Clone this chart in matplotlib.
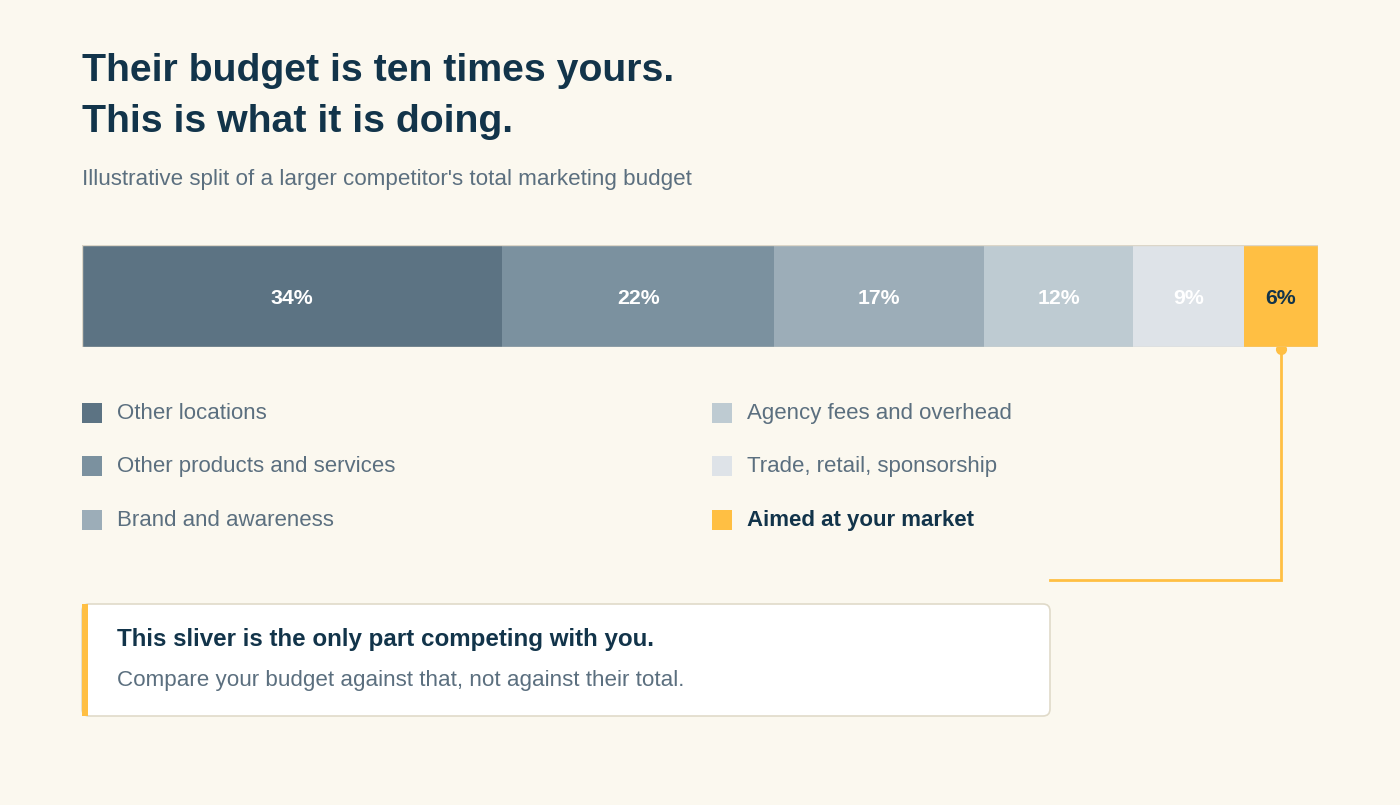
import matplotlib.pyplot as plt
from matplotlib.patches import Rectangle, FancyBboxPatch
import numpy as np

# данные
categories = ["Other locations", "Other products and services", "Brand and awareness",
              "Agency fees and overhead", "Trade, retail, sponsorship", "Aimed at your market"]
shares = [34, 22, 17, 12, 9, 6]
labels = [f"{v}%" for v in shares]
colors = ["#5C7383", "#7B919F", "#9CADB8", "#BECBD2", "#DEE3E8", "#FFBF43"]

title = "Their budget is ten times yours.\nThis is what it is doing."
subtitle = "Illustrative split of a larger competitor's total marketing budget"
note_head = "This sliver is the only part competing with you."
note_body = "Compare your budget against that, not against their total."

bg = "#FBF8EF"
navy = "#12344A"
grey = "#5B6F7F"
yellow = "#FFBF43"

plt.rcParams["font.family"] = ["Liberation Sans", "DejaVu Sans"]

W, H = 1400, 805
fig = plt.figure(figsize=(14, 8.05), dpi=100, facecolor=bg)

# слой в пиксельных координатах
ov = fig.add_axes([0, 0, 1, 1])
ov.set_xlim(0, W)
ov.set_ylim(H, 0)
ov.axis("off")

# заголовок
lines = title.split("\n")
ov.text(82, 81, lines[0], fontsize=28.3, fontweight="bold", color=navy, va="baseline")
ov.text(82, 132, lines[1], fontsize=28.3, fontweight="bold", color=navy, va="baseline")
ov.text(82, 185, subtitle, fontsize=16.1, color=grey, va="baseline")

# полоса
bx0, bx1, by0, by1 = 82, 1318, 245, 347
ax = fig.add_axes([bx0 / W, 1 - by1 / H, (bx1 - bx0) / W, (by1 - by0) / H])
lefts = np.cumsum([0] + shares[:-1])
ax.barh(0, shares, left=lefts, color=colors, height=1, edgecolor="none")
ax.set_xlim(0, sum(shares))
ax.set_ylim(-0.5, 0.5)
ax.axis("off")
ax.add_patch(Rectangle((0, -0.5), sum(shares), 1, fill=False, edgecolor="#DCD6C8", lw=1, zorder=3))
for i, (l, v) in enumerate(zip(lefts, shares)):
    c = navy if i == len(shares) - 1 else "white"
    ax.text(l + v / 2, -0.02, labels[i], ha="center", va="center", fontsize=15.3,
            fontweight="bold", color=c)

# соединительная линия от последнего сегмента
cx = bx0 + (lefts[-1] + shares[-1] / 2) / sum(shares) * (bx1 - bx0)
ov.plot([cx, cx, 1050], [by1, 580, 580], color=yellow, lw=2, solid_joinstyle="miter")
ov.plot([cx], [by1 + 2], "o", color=yellow, ms=7)

# легенда
row_y = [413, 466, 520]
col_x = [82, 712]
for i, name in enumerate(categories):
    x = col_x[i // 3]
    y = row_y[i % 3]
    ov.add_patch(Rectangle((x, y - 10), 20, 20, color=colors[i], lw=0))
    last = i == len(categories) - 1
    ov.text(x + 35, y + 6, name, fontsize=16, va="baseline",
            color=navy if last else grey, fontweight="bold" if last else "normal")

# пояснение
box = FancyBboxPatch((82, 604), 968, 112, boxstyle="round,pad=0,rounding_size=7",
                     facecolor="white", edgecolor="#E0DAC9", lw=1.2)
ov.add_patch(box)
ov.add_patch(Rectangle((82, 604), 6, 112, color=yellow, lw=0))
ov.text(117, 646, note_head, fontsize=17.4, fontweight="bold", color=navy, va="baseline")
ov.text(117, 686, note_body, fontsize=16.1, color=grey, va="baseline")

fig.savefig("out.png", dpi=100, facecolor=bg)
